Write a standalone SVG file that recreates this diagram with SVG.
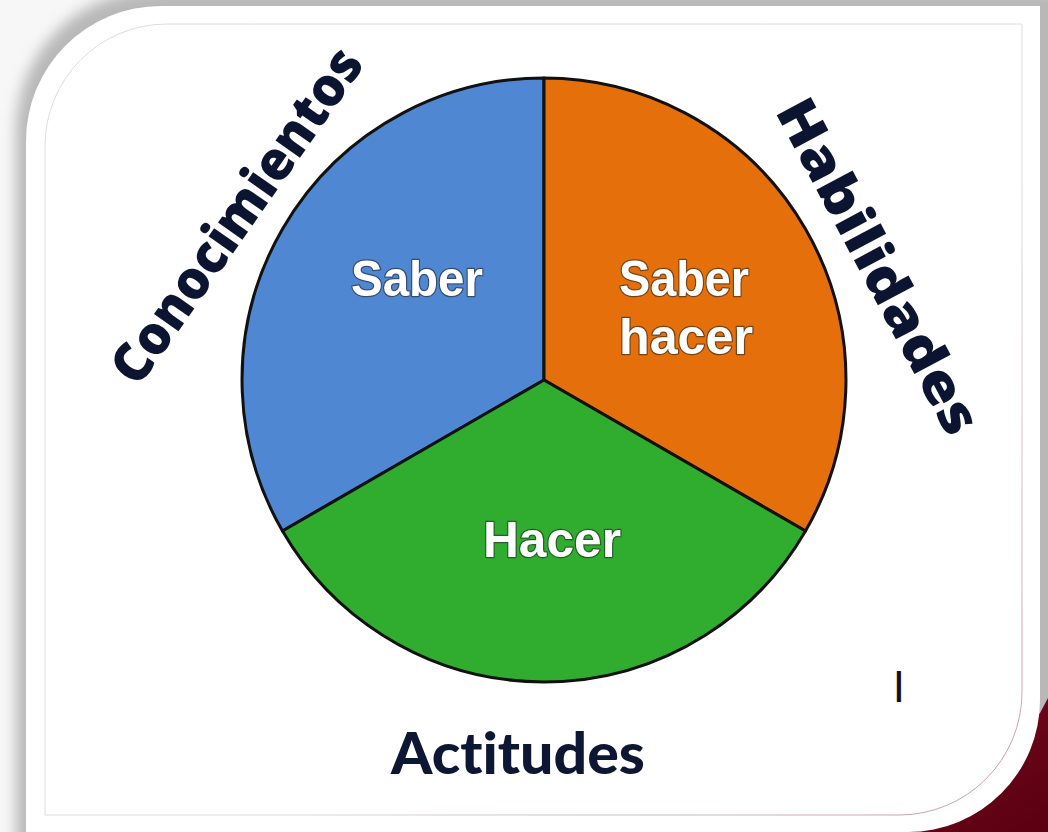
<svg xmlns="http://www.w3.org/2000/svg" width="1048" height="832" viewBox="0 0 1048 832">
  <defs>
    <filter id="blur" x="-10%" y="-10%" width="120%" height="120%">
      <feGaussianBlur stdDeviation="7"/>
    </filter>
    <linearGradient id="redg" x1="0" y1="0" x2="1" y2="1">
      <stop offset="0" stop-color="#7a0a1e"/>
      <stop offset="1" stop-color="#5a0010"/>
    </linearGradient>
    <linearGradient id="borderg" x1="0" y1="0" x2="1" y2="1">
      <stop offset="0.6" stop-color="#dcdcdc"/>
      <stop offset="1" stop-color="#c79aa6"/>
    </linearGradient>
    <style>
      .sector { stroke: #111; stroke-width: 3; stroke-linejoin: round; }
      .inlabel { font-family: "Liberation Sans", Arial, sans-serif; font-weight: bold; fill: #ffffff; stroke: rgba(30,30,30,0.55); stroke-width: 2.5; paint-order: stroke; stroke-linejoin: round; text-anchor: middle; }
      .outlabel { font-family: "Open Sans", "DejaVu Sans", sans-serif; font-weight: 800; fill: #0b1531; text-anchor: middle; }
      .calibri { font-family: Lato, "Liberation Sans", sans-serif; fill: #0d1733; font-variant-ligatures: none; }
      .mark { font-family: Lato, "Liberation Sans", sans-serif; fill: #111111; }
    </style>
  </defs>

  <!-- background and card -->
  <rect x="0" y="0" width="1048" height="832" fill="#f7f7f7"/>
  <path d="M 16 130 A 140 140 0 0 1 156 -10 H 1080 V 900 H 16 Z" fill="#b8b8b8" filter="url(#blur)"/>
  <polygon points="1040,713 1048,698 1048,832 870,832" fill="url(#redg)"/>
  <path id="card" d="M 26 141 A 135 135 0 0 1 161 6 H 1040 V 700 A 132 132 0 0 1 908 832 H 26 Z" fill="#ffffff"/>
  <path d="M 45 146 A 122 122 0 0 1 167 24 H 1022 V 692 A 123 123 0 0 1 899 815 H 45 Z" fill="none" stroke="url(#borderg)" stroke-width="1"/>

  <!-- pie -->
  <g id="saber">
    <path class="sector" d="M 544 380 L 544 78 A 302 302 0 0 0 282.5 531 Z" fill="#4f87d3"/>
    <text class="inlabel" x="417" y="296" font-size="50" textLength="132" lengthAdjust="spacingAndGlyphs">Saber</text>
  </g>
  <g id="saber-hacer">
    <path class="sector" d="M 544 380 L 544 78 A 302 302 0 0 1 805.5 531 Z" fill="#e46f0b"/>
    <text class="inlabel" x="684" y="296" font-size="50" textLength="130" lengthAdjust="spacingAndGlyphs">Saber</text>
    <text class="inlabel" x="686" y="354" font-size="50" textLength="134" lengthAdjust="spacingAndGlyphs">hacer</text>
  </g>
  <g id="hacer">
    <path class="sector" d="M 544 380 L 282.5 531 A 302 302 0 0 0 805.5 531 Z" fill="#30ad2f"/>
    <text class="inlabel" x="552" y="557" font-size="50" textLength="138" lengthAdjust="spacingAndGlyphs">Hacer</text>
  </g>

  <!-- outer labels -->
  <g id="conocimientos">
    <text class="outlabel" transform="translate(236 215) rotate(-55)" x="0" y="0" dy="0.36em" font-size="54" textLength="396" lengthAdjust="spacingAndGlyphs">Conocimientos</text>
  </g>
  <g id="habilidades">
    <text class="outlabel" transform="translate(879 266) rotate(62)" x="0" y="0" dy="0.36em" font-size="54" textLength="372" lengthAdjust="spacingAndGlyphs">Habilidades</text>
  </g>
  <g id="actitudes">
    <text class="calibri" x="518" y="774" font-size="57" font-weight="900" text-anchor="middle" textLength="254" lengthAdjust="spacingAndGlyphs">Actitudes</text>
  </g>
  <g id="mark">
    <text class="mark" x="899" y="702" font-size="42" text-anchor="middle">I</text>
  </g>
</svg>
